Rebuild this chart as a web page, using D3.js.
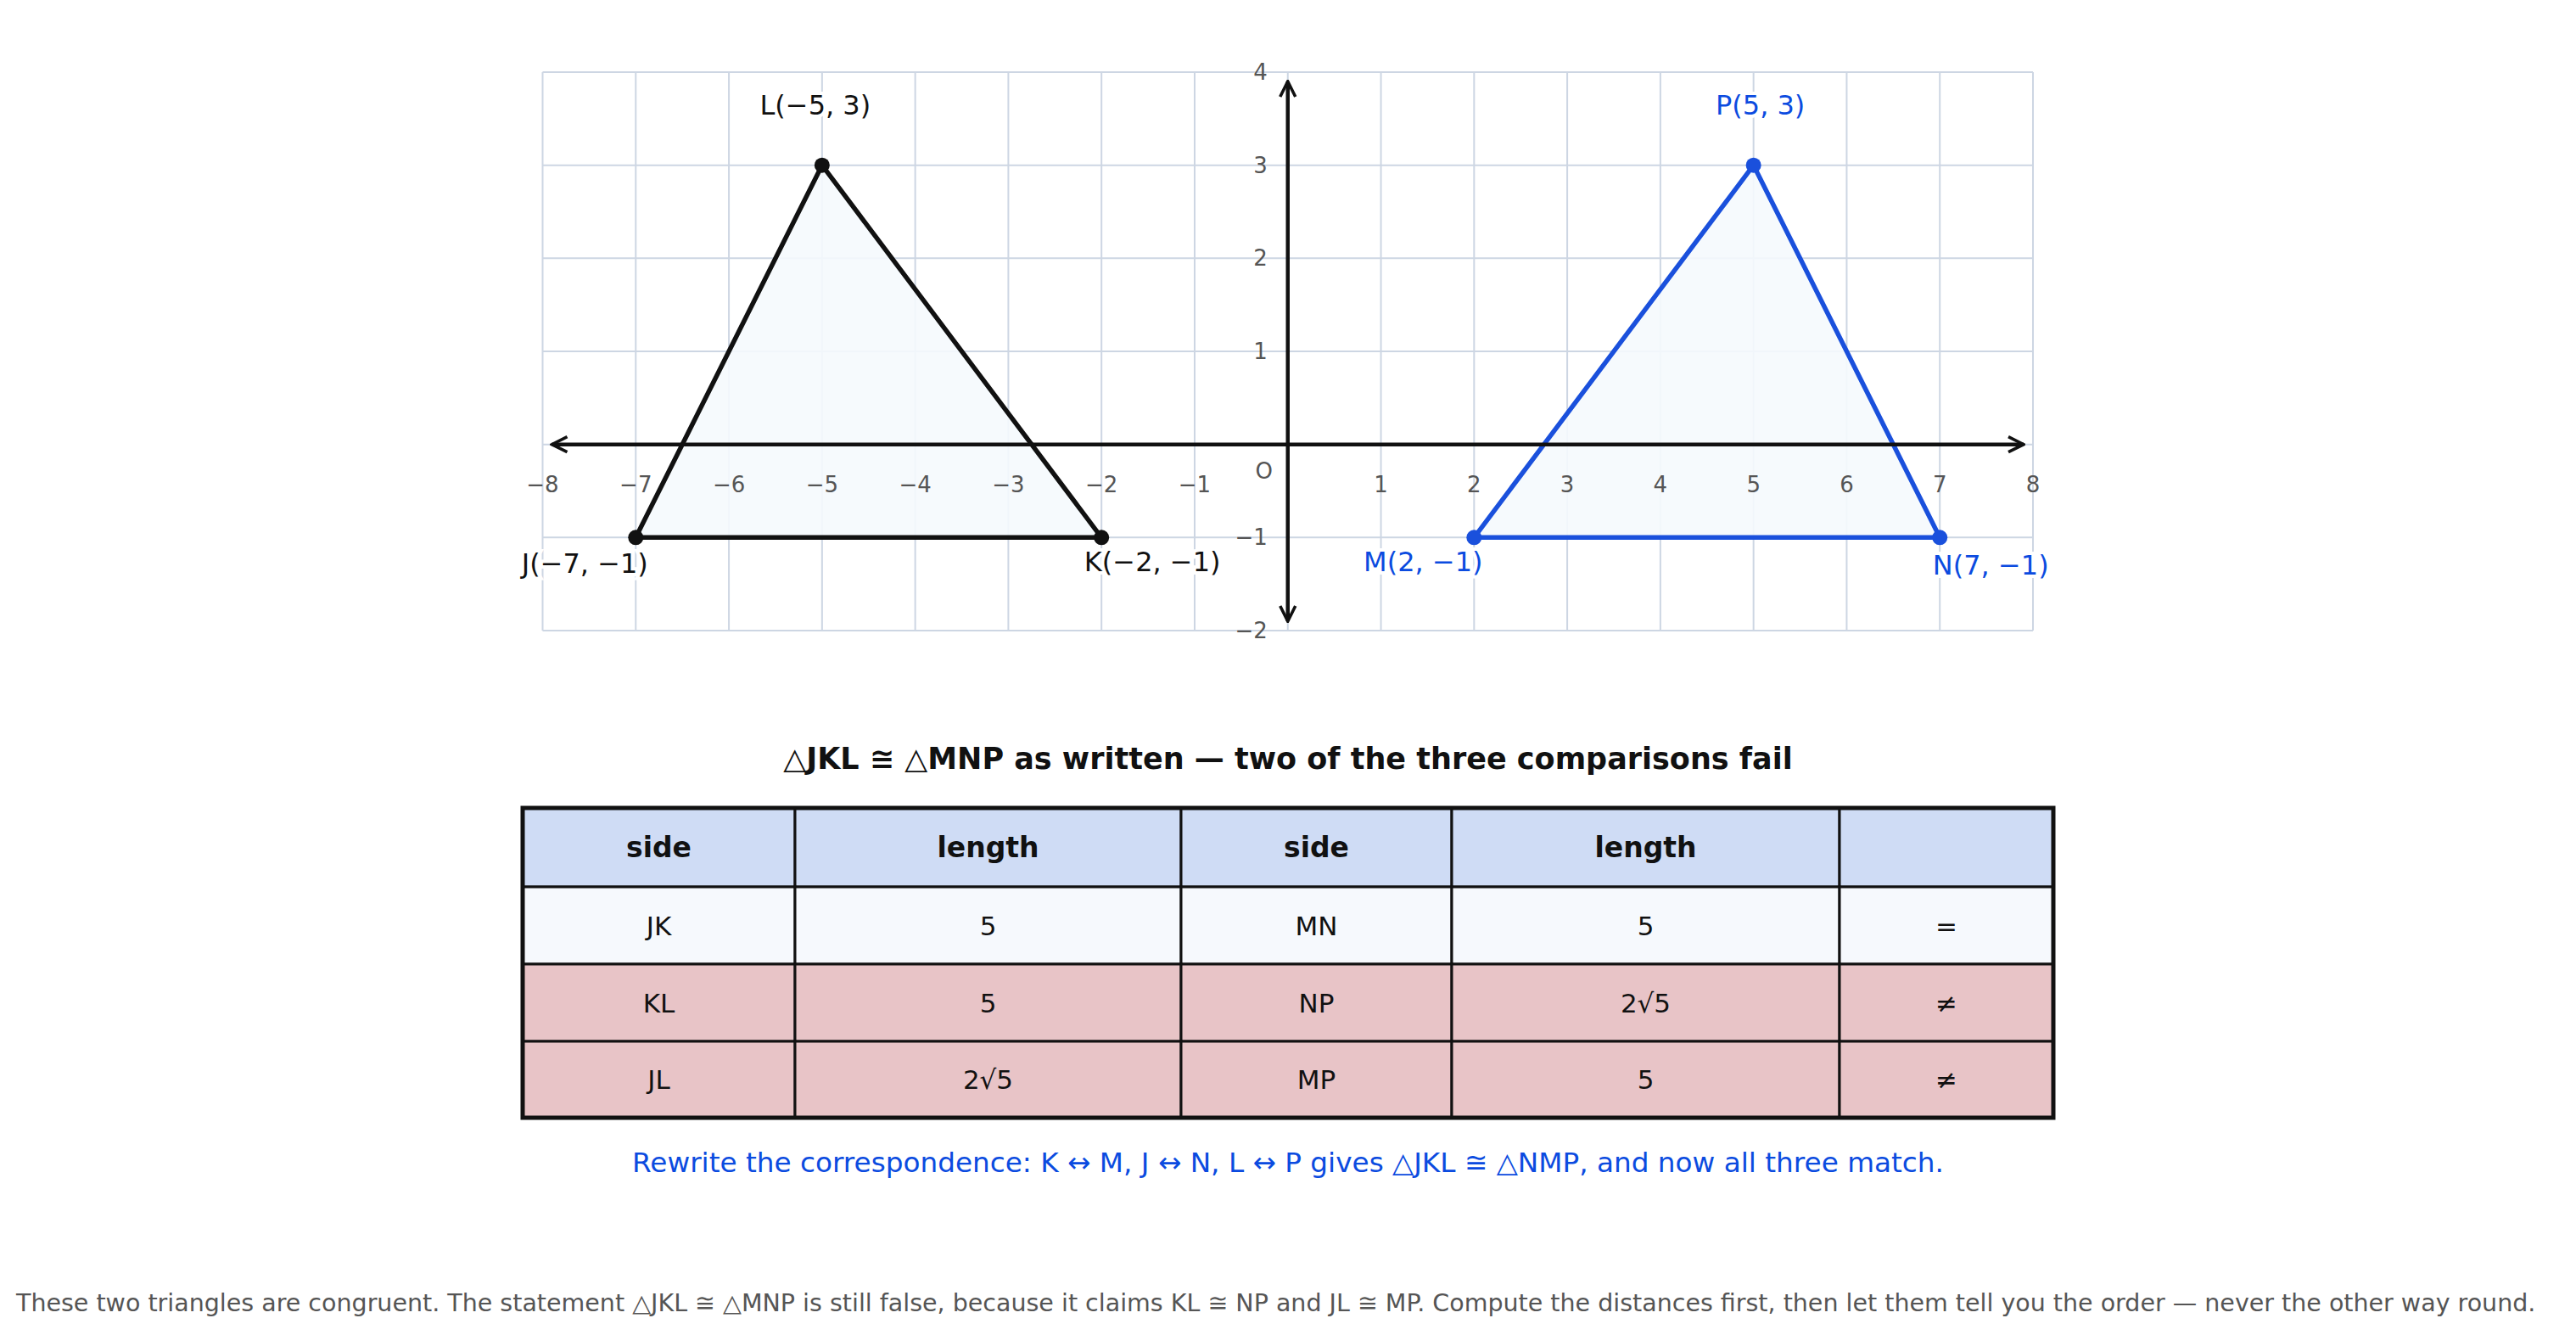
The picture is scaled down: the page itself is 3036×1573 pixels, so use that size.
<!DOCTYPE html>
<html><head><meta charset="utf-8">
<script src="https://cdn.jsdelivr.net/npm/d3@7"></script>
<style>body{margin:0;background:#fff;font-family:"DejaVu Sans",sans-serif}</style>
</head><body>
<svg id="c" width="3036" height="1573"></svg>
<script>
var triJKL = [{n:"J",x:-7,y:-1},{n:"K",x:-2,y:-1},{n:"L",x:-5,y:3}];
var triMNP = [{n:"M",x:2,y:-1},{n:"N",x:7,y:-1},{n:"P",x:5,y:3}];
var labelsJKL = ["J(\u22127, \u22121)","K(\u22122, \u22121)","L(\u22125, 3)"];
var labelsMNP = ["M(2, \u22121)","N(7, \u22121)","P(5, 3)"];
var headers = ["side","length","side","length",""];
var rows = [["JK","5","MN","5","="],["KL","5","NP","2\u221a5","\u2260"],["JL","2\u221a5","MP","5","\u2260"]];
var rowOk = [true,false,false];

var svg = d3.select("#c");
var x = d3.scaleLinear().domain([-8,8]).range([639.5,2396]);
var y = d3.scaleLinear().domain([-2,4]).range([743,85]);
var minus = function(v){return v<0 ? "\u2212"+Math.abs(v) : ""+v;};

var grid = svg.append("g").attr("stroke","#cdd6e3").attr("stroke-width",2);
d3.range(-8,9).forEach(function(v){
  grid.append("line").attr("x1",x(v)).attr("x2",x(v)).attr("y1",y(-2)).attr("y2",y(4));
});
d3.range(-2,5).forEach(function(v){
  grid.append("line").attr("x1",x(-8)).attr("x2",x(8)).attr("y1",y(v)).attr("y2",y(v));
});

var defs = svg.append("defs");
defs.append("marker").attr("id","ar").attr("viewBox","0 0 10 10").attr("refX",9).attr("refY",5)
  .attr("markerWidth",5).attr("markerHeight",5).attr("orient","auto-start-reverse")
  .append("path").attr("d","M1,1 L9,5 L1,9").attr("fill","none").attr("stroke","#111").attr("stroke-width",1.6);

function drawTri(pts, labels, col, labCol, offs){
  var line = d3.line().x(function(d){return x(d.x);}).y(function(d){return y(d.y);}).curve(d3.curveLinearClosed);
  svg.append("path").attr("d",line(pts)).attr("fill","#f5f9fd").attr("fill-opacity",0.9)
    .attr("stroke",col).attr("stroke-width",5.5).attr("stroke-linejoin","round");
  svg.selectAll(null).data(pts).enter().append("circle")
    .attr("cx",function(d){return x(d.x);}).attr("cy",function(d){return y(d.y);}).attr("r",9).attr("fill",col);
  svg.selectAll(null).data(pts).enter().append("text")
    .attr("x",function(d,i){return x(d.x)+offs[i][0];}).attr("y",function(d,i){return y(d.y)+offs[i][1];})
    .attr("text-anchor","middle").attr("font-size",32).attr("fill",labCol)
    .attr("paint-order","stroke").attr("stroke","#fff").attr("stroke-width",8)
    .text(function(d,i){return labels[i];});
}
drawTri(triJKL, labelsJKL, "#111", "#111", [[-60,42],[60,40],[-8,-60]]);
drawTri(triMNP, labelsMNP, "#1a50dc", "#0b4be0", [[-60,40],[60,44],[8,-60]]);

svg.append("line").attr("x1",x(-7.9)).attr("x2",x(7.9)).attr("y1",y(0)).attr("y2",y(0))
  .attr("stroke","#111").attr("stroke-width",4.5).attr("marker-start","url(#ar)").attr("marker-end","url(#ar)");
svg.append("line").attr("x1",x(0)).attr("x2",x(0)).attr("y1",y(-1.9)).attr("y2",y(3.9))
  .attr("stroke","#111").attr("stroke-width",4.5).attr("marker-start","url(#ar)").attr("marker-end","url(#ar)");

var ticks = svg.append("g").attr("fill","#555").attr("font-size",26);
d3.range(-8,9).filter(function(v){return v!==0;}).forEach(function(v){
  ticks.append("text").attr("x",x(v)).attr("y",y(0)+56).attr("text-anchor","middle").text(minus(v));
});
d3.range(-2,5).filter(function(v){return v!==0;}).forEach(function(v){
  ticks.append("text").attr("x",x(0)-24).attr("y",y(v)+9).attr("text-anchor","end").text(minus(v));
});
ticks.append("text").attr("x",x(0)-28).attr("y",y(0)+40).attr("text-anchor","middle").text("O");

svg.append("text").attr("x",1518).attr("y",906).attr("text-anchor","middle").attr("font-size",35)
  .attr("font-weight","bold").attr("fill","#111").text("\u25b3JKL \u2245 \u25b3MNP as written \u2014 two of the three comparisons fail");

var colX = [616,937,1392,1711,2168,2420];
var rowY = [952,1045,1136,1227,1317];
var tb = svg.append("g");
[headers].concat(rows).forEach(function(r,ri){
  var fill = ri===0 ? "#cfdcf5" : (rowOk[ri-1] ? "#f6f9fd" : "#e8c4c7");
  r.forEach(function(t,ci){
    tb.append("rect").attr("x",colX[ci]).attr("y",rowY[ri]).attr("width",colX[ci+1]-colX[ci])
      .attr("height",rowY[ri+1]-rowY[ri]).attr("fill",fill).attr("stroke","#111").attr("stroke-width",3);
    tb.append("text").attr("x",(colX[ci]+colX[ci+1])/2).attr("y",(rowY[ri]+rowY[ri+1])/2+11)
      .attr("text-anchor","middle").attr("font-size",ri===0?33:31).attr("fill","#111")
      .attr("font-weight",ri===0?"bold":"normal").text(t);
  });
});
tb.append("rect").attr("x",colX[0]).attr("y",rowY[0]).attr("width",colX[5]-colX[0]).attr("height",rowY[4]-rowY[0])
  .attr("fill","none").attr("stroke","#111").attr("stroke-width",5);

svg.append("text").attr("x",1518).attr("y",1381).attr("text-anchor","middle").attr("font-size",32.7).attr("fill","#0b4be0")
  .text("Rewrite the correspondence: K \u2194 M, J \u2194 N, L \u2194 P gives \u25b3JKL \u2245 \u25b3NMP, and now all three match.");
svg.append("text").attr("x",19).attr("y",1545).attr("font-size",28.5).attr("fill","#555")
  .text("These two triangles are congruent. The statement \u25b3JKL \u2245 \u25b3MNP is still false, because it claims KL \u2245 NP and JL \u2245 MP. Compute the distances first, then let them tell you the order \u2014 never the other way round.");
</script>
</body></html>
